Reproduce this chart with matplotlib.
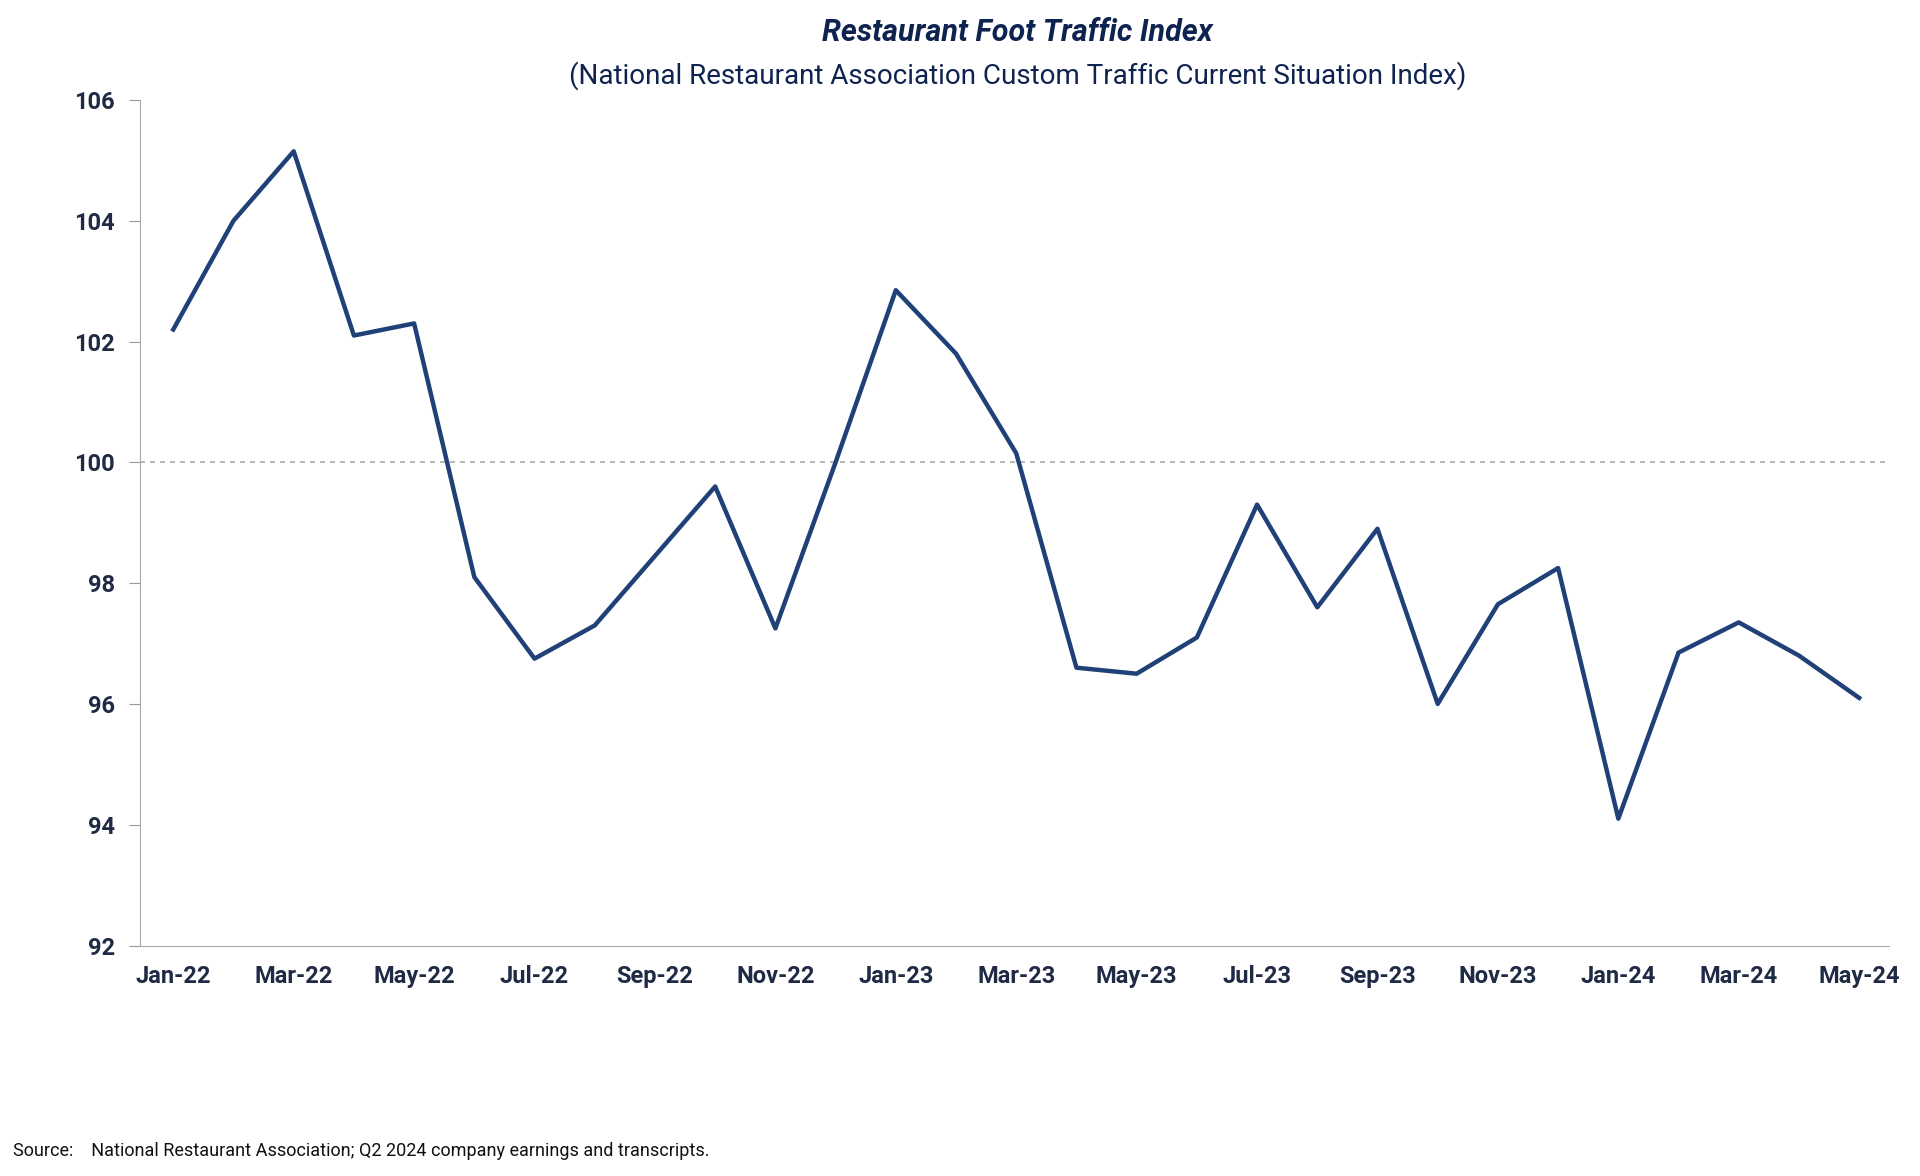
import matplotlib as mpl
mpl.use("Agg")
import matplotlib.pyplot as plt

# data
months = ["Jan-22", "Feb-22", "Mar-22", "Apr-22", "May-22", "Jun-22", "Jul-22", "Aug-22",
          "Sep-22", "Oct-22", "Nov-22", "Dec-22", "Jan-23", "Feb-23", "Mar-23", "Apr-23",
          "May-23", "Jun-23", "Jul-23", "Aug-23", "Sep-23", "Oct-23", "Nov-23", "Dec-23",
          "Jan-24", "Feb-24", "Mar-24", "Apr-24", "May-24"]
traffic = [102.2, 104.0, 105.15, 102.1, 102.3, 98.1, 96.75, 97.3,
           98.45, 99.6, 97.25, 100.0, 102.85, 101.8, 100.15, 96.6,
           96.5, 97.1, 99.3, 97.6, 98.9, 96.0, 97.65, 98.25,
           94.1, 96.85, 97.35, 96.8, 96.1]
y_ticks = [92, 94, 96, 98, 100, 102, 104, 106]

NAVY = "#1F4178"
TEXT = "#1F2A44"
TITLE = "#0E2350"

mpl.rcParams["font.family"] = "Roboto"

fig = plt.figure(figsize=(19.2, 11.76), dpi=100)
ax = fig.add_axes([0.073, 0.196, 0.911, 0.719])

x = list(range(len(months)))
ax.axhline(100, color="#AAAAAA", linestyle=(0, (3, 3)), linewidth=1.2, zorder=1)
ax.plot(x, traffic, color=NAVY, linewidth=3.2, zorder=3)

ax.set_xlim(-0.55, len(months) - 0.5)
ax.set_ylim(92, 106)
ax.set_yticks(y_ticks)
ax.set_xticks(x[::2])
ax.set_xticklabels(months[::2])
ax.tick_params(axis="both", labelsize=17, colors=TEXT, length=0, pad=14)
for lab in ax.get_xticklabels() + ax.get_yticklabels():
    lab.set_fontweight("bold")
ax.tick_params(axis="y", length=8, color="#999999", direction="out", pad=10)

for s in ["top", "right"]:
    ax.spines[s].set_visible(False)
ax.spines["left"].set_color("#AAAAAA")
ax.spines["bottom"].set_color("#AAAAAA")

fig.text(0.53, 0.972, "Restaurant Foot Traffic Index", ha="center", va="center",
         fontsize=22, fontweight="bold", fontstyle="italic", color=TITLE)
fig.text(0.53, 0.936, "(National Restaurant Association Custom Traffic Current Situation Index)",
         ha="center", va="center", fontsize=20, color=TITLE)
fig.text(0.007, 0.021, "Source:    National Restaurant Association; Q2 2024 company earnings and transcripts.",
         ha="left", va="center", fontsize=13, color="#111111")

fig.savefig("out.png", dpi=100)
